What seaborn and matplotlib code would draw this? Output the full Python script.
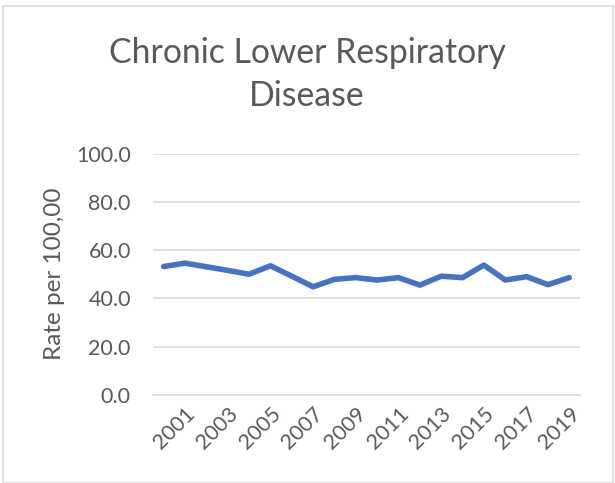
import matplotlib

matplotlib.use("Agg")
import matplotlib.pyplot as plt
import pandas as pd
import seaborn as sns
from matplotlib.patches import Rectangle

years = list(range(2000, 2020))
rates = [53.2, 54.6, 53.1, 51.6, 50.0, 53.5, 49.2, 44.8, 47.9, 48.6,
         47.6, 48.6, 45.5, 49.2, 48.6, 53.8, 47.6, 49.0, 45.7, 48.6]
y_ticks = [0, 20, 40, 60, 80, 100]
x_ticks = [2001, 2003, 2005, 2007, 2009, 2011, 2013, 2015, 2017, 2019]

title = "Chronic Lower Respiratory\nDisease"
y_label = "Rate per 100,00"

sns.set_theme(style="white")
plt.rcParams["font.family"] = ["Lato", "DejaVu Sans"]

df = pd.DataFrame({"year": years, "rate": rates})

W, H = 615, 483
fig = plt.figure(figsize=(W / 100, H / 100), dpi=100)
ax = fig.add_axes([153 / W, (H - 395) / H, (580 - 153) / W, (395 - 153.5) / H])

sns.lineplot(data=df, x="year", y="rate", ax=ax, color="#4472C4", linewidth=4,
             solid_capstyle="round", solid_joinstyle="round")

ax.set_xlim(1999.5, 2019.5)
ax.set_ylim(0, 100)
ax.set_yticks(y_ticks)
ax.set_yticklabels([f"{v:.1f}" for v in y_ticks])
ax.set_xticks(x_ticks)
ax.set_xticklabels([str(y) for y in x_ticks], rotation=45, ha="right",
                   rotation_mode="anchor")
ax.yaxis.grid(True, color="#d9d9d9", linewidth=1.2)
ax.xaxis.grid(False)
for side in ["top", "right", "left"]:
    ax.spines[side].set_visible(False)
ax.spines["bottom"].set_color("#d9d9d9")
ax.spines["bottom"].set_linewidth(1.2)
ax.tick_params(axis="both", colors="#595959", labelsize=15.5, length=0)
ax.tick_params(axis="y", pad=16)
ax.tick_params(axis="x", pad=6)
ax.set_xlabel("")
ax.set_ylabel(y_label, fontsize=17.5, color="#595959", labelpad=8)

fig.text(307 / W, 1 - 74.5 / H, title, ha="center", va="center", fontsize=24.3,
         color="#595959", linespacing=1.42)

fig.patches.append(Rectangle((3 / W, 0), (613 - 3) / W, (H - 6) / H,
                             transform=fig.transFigure, fill=False,
                             edgecolor="#d9d9d9", linewidth=1.2))

fig.savefig("out.png", dpi=100)
